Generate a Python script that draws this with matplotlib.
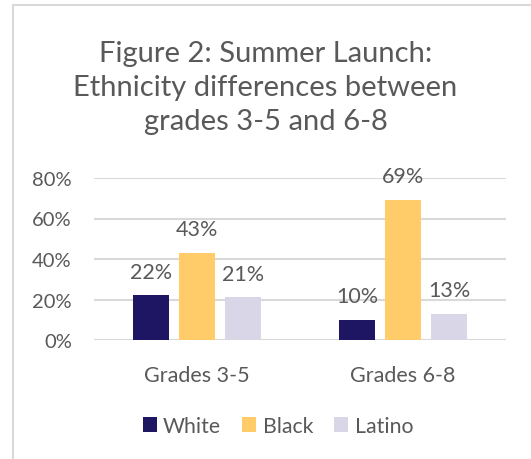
import matplotlib.pyplot as plt
import numpy as np
from matplotlib.patches import Rectangle

# данные
groups = ['Grades 3-5', 'Grades 6-8']
series = ['White', 'Black', 'Latino']
white = [0.22, 0.10]
black = [0.43, 0.69]
latino = [0.21, 0.13]
colors = ['#1e1563', '#ffcc69', '#d9d6e8']
yticks = [0, 0.2, 0.4, 0.6, 0.8]

txt = '#595959'
plt.rcParams['font.family'] = ['Lato', 'DejaVu Sans']

fig = plt.figure(figsize=(5.31, 4.6), dpi=100)
ax = fig.add_axes([94 / 531, 1 - 341 / 460, 412 / 531, (341 - 179) / 460])

# рамка вокруг диаграммы
fig.patches.append(Rectangle((13 / 531, -0.1), 1.2, 1 - 6 / 460 + 0.1,
                             transform=fig.transFigure, fill=False,
                             edgecolor='#d9d9d9', lw=1.5))

x = np.arange(len(groups))
w = 36 / 206
step = 46 / 206
for i, (vals, name) in enumerate(zip([white, black, latino], series)):
    bars = ax.bar(x + (i - 1) * step, vals, width=w, color=colors[i], label=name, zorder=3)
    for b, v in zip(bars, vals):
        ax.annotate(f'{v:.0%}', (b.get_x() + b.get_width() / 2, v),
                    xytext=(0, 10), textcoords='offset points',
                    ha='center', va='bottom', fontsize=15.5, color=txt)

ax.set_xlim(-0.5, 1.5)
ax.set_ylim(0, 0.8)
ax.set_yticks(yticks)
ax.set_yticklabels([f'{t:.0%}' for t in yticks])
ax.set_xticks(x)
ax.set_xticklabels(groups)
ax.tick_params(axis='both', length=0, colors=txt)
ax.tick_params(axis='y', pad=16, labelsize=14.5)
ax.tick_params(axis='x', pad=18, labelsize=15.5)
ax.grid(axis='y', color='#d9d9d9', lw=1.5, zorder=0)
for s in ax.spines.values():
    s.set_visible(False)

fig.text(0.5, 1 - 88 / 460, 'Figure 2: Summer Launch:\nEthnicity differences between\ngrades 3-5 and 6-8',
         ha='center', va='center', fontsize=21, color=txt, linespacing=1.4)

fig.legend(loc='center', bbox_to_anchor=(278 / 531, 1 - 427 / 460), ncol=3, frameon=False,
           fontsize=15.3, labelcolor=txt, handlelength=0.65, handleheight=0.65,
           handletextpad=0.3, columnspacing=1.0)

fig.savefig('out.png', dpi=100)
